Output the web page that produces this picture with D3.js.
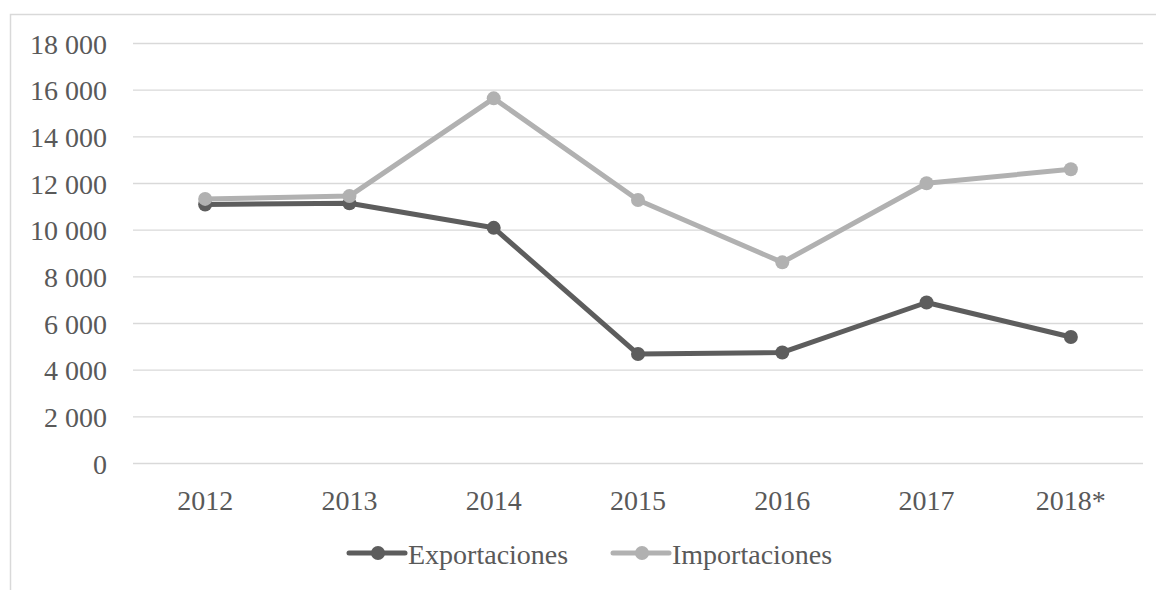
<!DOCTYPE html>
<html>
<head>
<meta charset="utf-8">
<script src="https://cdn.jsdelivr.net/npm/d3@7/dist/d3.min.js"></script>
<style>
  html, body { margin: 0; padding: 0; background: #fff; }
  svg text { font-family: 'Liberation Serif', 'Times New Roman', serif; fill: #595959; }
</style>
</head>
<body>
<svg id="chart" width="1156" height="590"></svg>
<script>
  // ---- data ----
  const years = ['2012', '2013', '2014', '2015', '2016', '2017', '2018*'];
  const exportaciones = [11100, 11150, 10100, 4690, 4760, 6900, 5420];
  const importaciones = [11340, 11460, 15650, 11290, 8620, 12010, 12610];
  const yTicks = [0, 2000, 4000, 6000, 8000, 10000, 12000, 14000, 16000, 18000];

  const series = [
    { name: 'Exportaciones', values: exportaciones, color: '#5d5d5d' },
    { name: 'Importaciones', values: importaciones, color: '#b1b1b1' }
  ];

  const W = 1156, H = 590;
  const margin = { left: 133, right: 13, top: 43.5, bottom: 126.5 };

  const svg = d3.select('#chart');

  // chart border (cropped on right and bottom)
  svg.append('rect')
    .attr('x', 10.5).attr('y', 14.5)
    .attr('width', W + 20).attr('height', H + 20)
    .attr('fill', 'none')
    .attr('stroke', '#d9d9d9')
    .attr('stroke-width', 1.5);

  const x = d3.scaleBand()
    .domain(years)
    .range([margin.left, W - margin.right]);

  const y = d3.scaleLinear()
    .domain([0, 18000])
    .range([H - margin.bottom, margin.top]);

  const fmt = v => d3.format(',')(v).replace(/,/g, '\u00a0');

  // gridlines
  svg.append('g')
    .selectAll('line')
    .data(yTicks)
    .join('line')
    .attr('x1', margin.left).attr('x2', W - margin.right)
    .attr('y1', d => y(d)).attr('y2', d => y(d))
    .attr('stroke', '#d9d9d9')
    .attr('stroke-width', 1.3);

  // y axis labels
  const yAxis = svg.append('g')
    .attr('transform', `translate(${margin.left - 26},0)`)
    .call(d3.axisLeft(y).tickValues(yTicks).tickFormat(fmt).tickSize(0).tickPadding(0));
  yAxis.select('.domain').remove();
  yAxis.selectAll('text')
    .attr('font-size', 28)
    .attr('dy', '0.35em')
    .style('font-family', "'Liberation Serif', 'Times New Roman', serif")
    .style('fill', '#595959');

  // x axis labels
  const xAxis = svg.append('g')
    .attr('transform', `translate(0,${y(0)})`)
    .call(d3.axisBottom(x).tickSize(0).tickPadding(0));
  xAxis.select('.domain').remove();
  xAxis.selectAll('text')
    .attr('font-size', 28)
    .attr('y', 46)
    .attr('dy', 0)
    .style('font-family', "'Liberation Serif', 'Times New Roman', serif")
    .style('fill', '#595959');

  const cx = d => x(d) + x.bandwidth() / 2;

  const line = d3.line()
    .x((d, i) => cx(years[i]))
    .y(d => y(d));

  series.forEach(s => {
    svg.append('path')
      .datum(s.values)
      .attr('d', line)
      .attr('fill', 'none')
      .attr('stroke', s.color)
      .attr('stroke-width', 5)
      .attr('stroke-linejoin', 'round')
      .attr('stroke-linecap', 'round');

    svg.append('g')
      .selectAll('circle')
      .data(s.values)
      .join('circle')
      .attr('cx', (d, i) => cx(years[i]))
      .attr('cy', d => y(d))
      .attr('r', 7)
      .attr('fill', s.color);
  });

  // legend
  const legendY = 553;
  const legendX = [349, 613];
  const legend = svg.append('g')
    .selectAll('g')
    .data(series)
    .join('g')
    .attr('transform', (d, i) => `translate(${legendX[i]},${legendY})`);

  legend.append('line')
    .attr('x1', 0).attr('x2', 56)
    .attr('y1', 0).attr('y2', 0)
    .attr('stroke', d => d.color)
    .attr('stroke-width', 5)
    .attr('stroke-linecap', 'round');

  legend.append('circle')
    .attr('cx', 29).attr('cy', 0).attr('r', 7)
    .attr('fill', d => d.color);

  legend.append('text')
    .attr('x', 59)
    .attr('y', 11)
    .attr('font-size', 28)
    .text(d => d.name);
</script>
</body>
</html>
